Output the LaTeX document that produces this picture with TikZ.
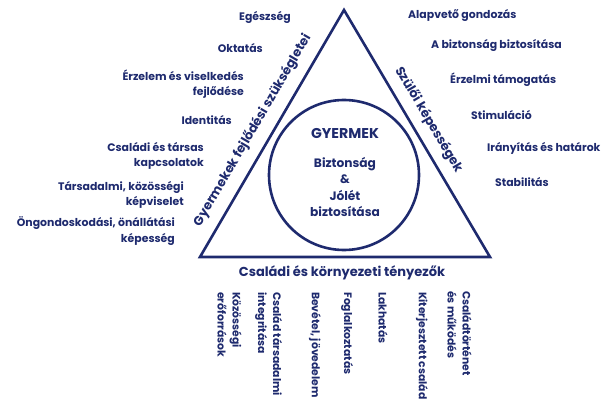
\documentclass[tikz,border=0pt]{standalone}
\usepackage{fontspec}
\setmainfont{Poppins}
\definecolor{navy}{RGB}{30,42,110}
\begin{document}
\begin{tikzpicture}[x=1pt,y=-1pt,
  lbl/.style={text=navy,font=\bfseries\fontsize{10.9}{15.5}\selectfont,inner sep=0pt},
  lft/.style={lbl,align=right,anchor=east},
  rgt/.style={lbl,anchor=west},
  vert/.style={lbl,font=\bfseries\fontsize{10.8}{15}\selectfont,rotate=-90,anchor=west,align=left},
  side/.style={text=navy,font=\bfseries\fontsize{12.8}{14}\selectfont,inner sep=0pt},
  outline/.style={draw=navy,line width=2.6pt}]
\useasboundingbox (0,0) rectangle (602,401);
% triangle
\coordinate (apex) at (344,10);
\coordinate (bl) at (200,257);
\coordinate (br) at (490,257);
\draw[outline,line join=miter] (apex) -- (br) -- (bl) -- cycle;
\node[outline,circle,minimum size=150pt,inner sep=0pt] (circ) at (344,175) {};
% centre
\node[text=navy,font=\bfseries\fontsize{14.2}{15}\selectfont,inner sep=0pt] (gy) at (345,133) {GYERMEK};
\node[lbl,align=center,font=\bfseries\fontsize{12.2}{16.3}\selectfont] (bj) at (345,187) {Biztonság\\\&\\Jólét\\biztosítása};
% side labels
\node[side,rotate=59.75] (gyl) at (252.5,130.5) {Gyermekek fejlődési szükségletei};
\node[side,rotate=-59.4] (szl) at (428.6,120) {Szülői képességek};
\node[side,font=\bfseries\fontsize{13}{14}\selectfont] (csk) at (342,273) {Családi és környezeti tényezők};
% left list
\node[lft] (l1) at (291,17) {Egészség};
\node[lft] (l2) at (263,48) {Oktatás};
\node[lft] (l3) at (244,84) {Érzelem és viselkedés\\fejlődése};
\node[lft] (l4) at (232,120) {Identitás};
\node[lft] (l5) at (204,156) {Családi és társas\\kapcsolatok};
\node[lft] (l6) at (184,195) {Társadalmi, közösségi\\képviselet};
\node[lft] (l7) at (175,231) {Öngondoskodási, önállátási\\képesség};
% right list
\node[rgt] (r1) at (408,15) {Alapvető gondozás};
\node[rgt] (r2) at (431,45) {A biztonság biztosítása};
\node[rgt] (r3) at (450,80) {Érzelmi támogatás};
\node[rgt] (r4) at (471,115) {Stimuláció};
\node[rgt] (r5) at (487,148) {Irányítás és határok};
\node[rgt] (r6) at (495,182) {Stabilitás};
% bottom vertical list
\node[vert] (b1) at (229.5,292) {Közösségi\\erőforrások};
\node[vert] (b2) at (268.5,292) {Család társadalmi\\integritása};
\node[vert] (b3) at (315,292) {Bevétel, jövedelem};
\node[vert] (b4) at (347,292) {Foglalkoztatás};
\node[vert] (b5) at (383,292) {Lakhatás};
\node[vert] (b6) at (422,292) {Kiterjesztett család};
\node[vert] (b7) at (459.5,291) {Családtörténet\\és működés};
\end{tikzpicture}
\end{document}
